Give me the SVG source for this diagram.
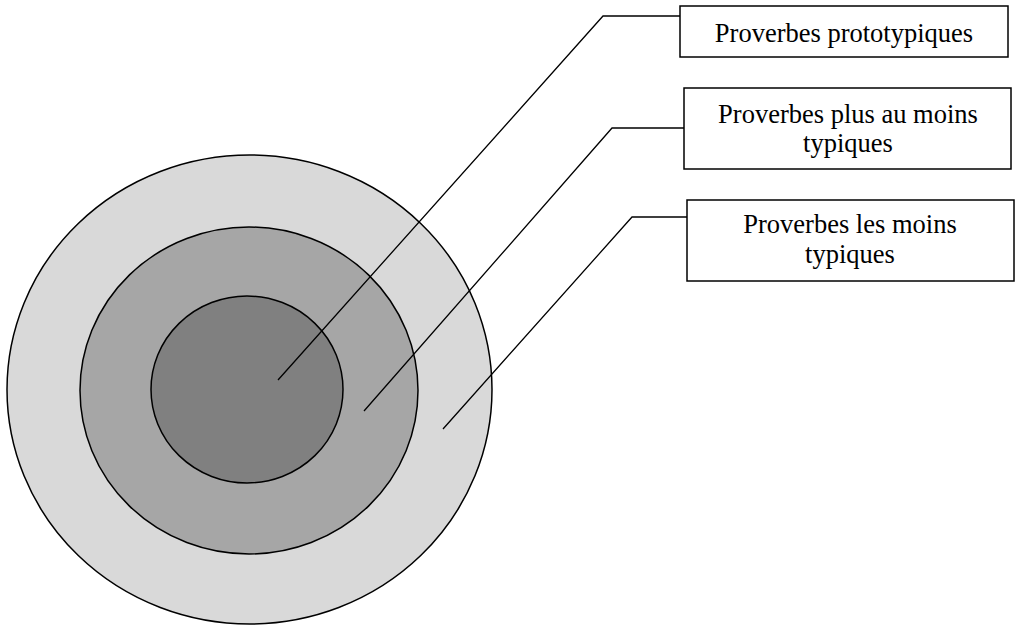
<svg xmlns="http://www.w3.org/2000/svg" width="1019" height="627" viewBox="0 0 1019 627">
<style>
.ring{stroke:#000;stroke-width:1.5}
.box{fill:#fff;stroke:#000;stroke-width:1.5}
.lbl{font-family:"Liberation Serif","Times New Roman",serif;font-size:26.5px;fill:#000;text-anchor:middle}
.con{fill:none;stroke:#000;stroke-width:1.3}
</style>
<rect width="1019" height="627" fill="#fff"/>
<g id="outer"><ellipse class="ring" cx="249.5" cy="389.5" rx="242.5" ry="234.5" fill="#d9d9d9"/></g>
<g id="middle"><ellipse class="ring" cx="249" cy="390.5" rx="169" ry="163.5" fill="#a6a6a6"/></g>
<g id="inner"><ellipse class="ring" cx="247" cy="389.5" rx="96" ry="93.5" fill="#808080"/></g>
<g id="connectors">
<polyline class="con" points="278,380 603,16 681,16"/>
<polyline class="con" points="364,411 612,128 684,128"/>
<polyline class="con" points="443,429 632,217 687,217"/>
</g>
<g id="box1"><rect class="box" x="680" y="6" width="328" height="51"/><text class="lbl" x="844" y="42">Proverbes prototypiques</text></g>
<g id="box2"><rect class="box" x="684" y="88" width="327" height="81"/><text class="lbl" x="848" y="123">Proverbes plus au moins</text><text class="lbl" x="848" y="152">typiques</text></g>
<g id="box3"><rect class="box" x="687" y="200" width="327" height="81"/><text class="lbl" x="850" y="233">Proverbes les moins</text><text class="lbl" x="850" y="263">typiques</text></g>
</svg>
